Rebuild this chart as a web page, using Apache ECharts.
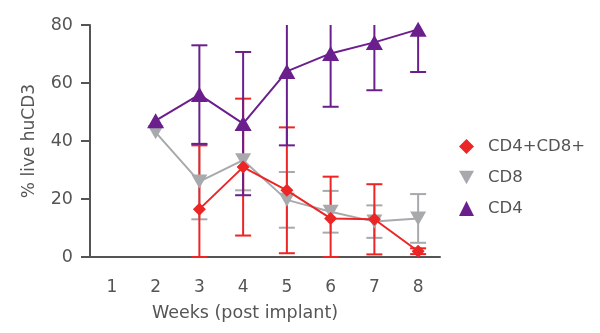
<!DOCTYPE html>
<html>
<head>
<meta charset="utf-8">
<script src="https://cdn.jsdelivr.net/npm/echarts@6/dist/echarts.min.js"></script>
<style>html,body{margin:0;padding:0;background:#fff;}#c{width:600px;height:333px;}</style>
</head>
<body>
<div id="c"></div>
<script>
var weeks = ['1', '2', '3', '4', '5', '6', '7', '8'];
var yTicks = [0, 20, 40, 60, 80];
var cd4cd8Mean = [null, null, 16.5, 31, 23, 13.3, 13, 2];
var cd4cd8Err  = [null, null, 22, 23.6, 21.7, 14.4, 12.1, 1];
var cd8Mean = [null, 43, 26, 33.4, 19.7, 15.6, 12.2, 13.3];
var cd8Err  = [null, 0, 13, 10.4, 9.6, 7.2, 5.6, 8.4];
var cd4Mean = [null, 47, 56, 46, 64, 70.2, 74, 78.5];
var cd4Err  = [null, 0, 17, 24.7, 25.5, 18.4, 16.5, 14.7];

var RED = '#ec2525', GRAY = '#a8a9ac', PURPLE = '#6a1f8c', AX = '#555555';
var YMIN = yTicks[0], YMAX = yTicks[yTicks.length - 1];
var FONT = 'DejaVu Sans';

function errData(mean, err) {
  var out = [];
  for (var i = 0; i < mean.length; i++) {
    if (mean[i] != null && err[i]) out.push([i, mean[i], err[i]]);
  }
  return out;
}
function errSeries(name, mean, err, color, z) {
  return {
    type: 'custom', name: name + ' err', z: z, silent: true,
    data: errData(mean, err),
    renderItem: function (params, api) {
      var i = api.value(0), m = api.value(1), e = api.value(2);
      var hiV = m + e, loV = m - e;
      var hiClip = hiV > YMAX; if (hiClip) hiV = YMAX;
      if (loV < YMIN) loV = YMIN;
      var hi = api.coord([i, hiV]), lo = api.coord([i, loV]);
      var w = 8;
      var style = { stroke: color, lineWidth: 2 };
      var ch = [
        { type: 'line', shape: { x1: hi[0], y1: hi[1], x2: lo[0], y2: lo[1] }, style: style },
        { type: 'line', shape: { x1: lo[0] - w, y1: lo[1], x2: lo[0] + w, y2: lo[1] }, style: style }
      ];
      if (!hiClip) ch.push({ type: 'line', shape: { x1: hi[0] - w, y1: hi[1], x2: hi[0] + w, y2: hi[1] }, style: style });
      return { type: 'group', children: ch };
    }
  };
}

var downTri = 'path://M0,0 L10,0 L5,9 Z';
var chart = echarts.init(document.getElementById('c'));
chart.setOption({
  animation: false,
  textStyle: { fontFamily: FONT },
  grid: { left: 90, right: 160, top: 25, bottom: 76, containLabel: false },
  legend: {
    orient: 'vertical', left: 454, top: 133, itemGap: 14,
    itemWidth: 15, itemHeight: 15,
    textStyle: { fontFamily: FONT, fontSize: 16.5, color: AX, padding: [0, 0, 0, 9] },
    data: [
      { name: 'CD4+CD8+', icon: 'diamond' },
      { name: 'CD8', icon: downTri },
      { name: 'CD4', icon: 'triangle' }
    ]
  },
  xAxis: {
    type: 'category', data: weeks, boundaryGap: true,
    name: 'Weeks (post implant)', nameLocation: 'middle', nameGap: 47,
    nameTextStyle: { fontFamily: FONT, fontSize: 17.5, color: AX, padding: [0, 40, 0, 0] },
    axisLine: { lineStyle: { color: AX, width: 2 } },
    axisTick: { alignWithLabel: true, length: 9, lineStyle: { color: AX, width: 2 } },
    axisLabel: { fontFamily: FONT, fontSize: 17, color: AX, margin: 22 },
    splitLine: { show: false }
  },
  yAxis: {
    type: 'value', min: YMIN, max: YMAX, interval: 20,
    name: '% live huCD3', nameLocation: 'middle', nameGap: 52, nameRotate: 90,
    nameTextStyle: { fontFamily: FONT, fontSize: 17, color: AX },
    axisLine: { show: true, lineStyle: { color: AX, width: 2 } },
    axisTick: { show: true, length: 9, lineStyle: { color: AX, width: 2 } },
    axisLabel: { fontFamily: FONT, fontSize: 17.5, color: AX, margin: 17 },
    splitLine: { show: false }
  },
  series: [
    errSeries('CD8', cd8Mean, cd8Err, GRAY, 1),
    errSeries('CD4+CD8+', cd4cd8Mean, cd4cd8Err, RED, 2),
    errSeries('CD4', cd4Mean, cd4Err, PURPLE, 3),
    {
      name: 'CD8', type: 'line', data: cd8Mean, z: 4,
      symbol: downTri, symbolSize: [16, 14], showAllSymbol: true,
      lineStyle: { color: GRAY, width: 2 }, itemStyle: { color: GRAY }
    },
    {
      name: 'CD4+CD8+', type: 'line', data: cd4cd8Mean, z: 5,
      symbol: 'diamond', symbolSize: 13, showAllSymbol: true,
      lineStyle: { color: RED, width: 2 }, itemStyle: { color: RED }
    },
    {
      name: 'CD4', type: 'line', data: cd4Mean, z: 6,
      symbol: 'triangle', symbolSize: [17, 15], showAllSymbol: true,
      lineStyle: { color: PURPLE, width: 2 }, itemStyle: { color: PURPLE }
    }
  ]
});
</script>
</body>
</html>
